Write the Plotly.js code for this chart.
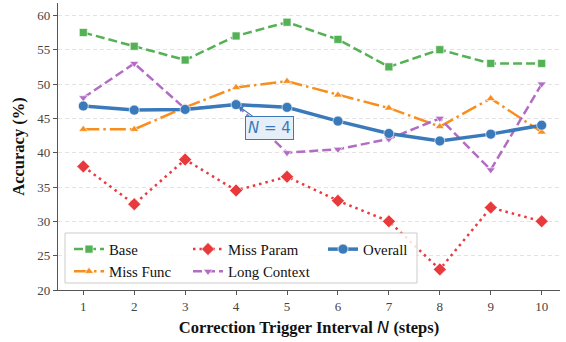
<!DOCTYPE html>
<html>
<head>
<meta charset="utf-8">
<script src="https://cdn.plot.ly/plotly-3.0.1.min.js"></script>
<style>html,body{margin:0;padding:0;background:#fff;}#chart{width:566px;height:342px;}</style>
</head>
<body>
<div id="chart"></div>
<script>
const intervals = [1, 2, 3, 4, 5, 6, 7, 8, 9, 10];
const base        = [57.5, 55.5, 53.5, 57.0, 59.0, 56.5, 52.5, 55.0, 53.0, 53.0];
const missFunc    = [43.4, 43.4, 46.6, 49.5, 50.4, 48.4, 46.5, 43.8, 47.9, 43.0];
const missParam   = [38.0, 32.5, 39.0, 34.5, 36.5, 33.0, 30.0, 23.0, 32.0, 30.0];
const longContext = [48.0, 53.0, 46.4, 47.0, 40.0, 40.5, 42.0, 45.0, 37.5, 50.0];
const overall     = [46.8, 46.2, 46.3, 47.0, 46.6, 44.6, 42.8, 41.7, 42.7, 44.0];
const yTicks = [20, 25, 30, 35, 40, 45, 50, 55, 60];
const annotX = 4, annotY = 47.0;

const C = {green:'#55b155', orange:'#f88e1e', red:'#e8393c', purple:'#b36cc4', blue:'#3a7abb'};
const serif = 'Liberation Serif';

function tr(name, y, color, dash, width, symbol, size, legend){
  return {x: intervals, y: y, name: name, type:'scatter', mode:'lines+markers',
    line:{color:color, width:width, dash:dash},
    marker:{symbol:symbol, size:size, color:color, line:{color:'rgba(255,255,255,0.8)', width:0.8}},
    legend: legend};
}
const data = [
  tr('Base', base, C.green, '9px,4px', 2.5, 'square', 8, 'legend'),
  tr('Miss Func', missFunc, C.orange, '16px,4px,2.5px,4px', 2.5, 'triangle-up', 8, 'legend'),
  tr('Miss Param', missParam, C.red, '2.5px,4px', 2.5, 'diamond', 10, 'legend2'),
  tr('Long Context', longContext, C.purple, '9px,4px', 2.5, 'triangle-down', 8, 'legend2'),
  tr('Overall', overall, C.blue, 'solid', 3.5, 'circle', 10, 'legend3')
];

function leg(px, py){
  return {bgcolor:'rgba(0,0,0,0)', borderwidth:0, font:{family:serif, size:14.8, color:'#111'},
    itemwidth:30, orientation:'v', xanchor:'left', yanchor:'top', tracegroupgap:0, traceorder:'normal',
    x:(px-58)/502, y:1-(py-3)/287};
}
const px2x = p => (p-58)/502, px2y = p => 1-(p-3)/287;

const layout = {
  width:566, height:342,
  font:{family:serif, size:13, color:'#111'},
  margin:{l:58, r:6, t:3, b:52},
  paper_bgcolor:'#fff', plot_bgcolor:'#fff',
  showlegend:true,
  xaxis:{range:[0.503, 10.36], tickvals:intervals, ticks:'outside', ticklen:4, tickcolor:'#555',
    showline:true, linecolor:'#555', linewidth:1.2, showgrid:false, zeroline:false,
    tickfont:{family:serif, size:13, color:'#444'},
    title:{text:'<b>Correction Trigger Interval </b><span style="font-family:DejaVu Sans"><i>N</i></span><b> (steps)</b>', font:{family:serif, size:16.5, color:'#111'}, standoff:8}},
  yaxis:{range:[20, 61.8], tickvals:yTicks, ticks:'outside', ticklen:4, tickcolor:'#555',
    showline:true, linecolor:'#555', linewidth:1.2, showgrid:true, gridcolor:'#dcdcdc', griddash:'4px,3px', gridwidth:0.8, zeroline:false,
    tickfont:{family:serif, size:13, color:'#444'},
    title:{text:'<b>Accuracy (%)</b>', font:{family:serif, size:16.5, color:'#111'}, standoff:8}},
  legend: leg(69, 233),
  legend2: leg(188, 233),
  legend3: leg(323, 233),
  shapes:[{type:'rect', xref:'paper', yref:'paper', x0:px2x(65), x1:px2x(417), y0:px2y(283), y1:px2y(233),
    fillcolor:'rgba(255,255,255,0.85)', line:{color:'#cccccc', width:1}, layer:'above'}],
  annotations:[{x:annotX, y:annotY, xref:'x', yref:'y', text:'<i>N</i> = 4', showarrow:true,
    ax:33, ay:23, arrowhead:1, arrowsize:1, arrowwidth:1.2, arrowcolor:C.blue, standoff:4,
    font:{family:'DejaVu Sans', size:15, color:C.blue}, bgcolor:'#e6eff8', bordercolor:C.blue, borderwidth:1, borderpad:2}]
};
Plotly.newPlot('chart', data, layout, {staticPlot:true, displayModeBar:false});
</script>
</body>
</html>
